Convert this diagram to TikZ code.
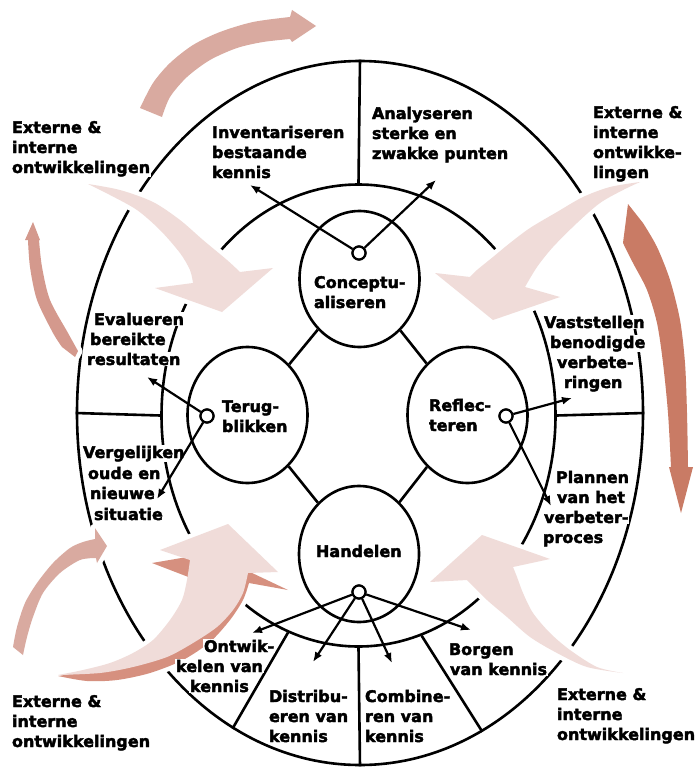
\documentclass[tikz,border=0pt]{standalone}
\usepackage{fontspec}
\newfontfamily\lblfont{DejaVu Sans}[BoldFeatures={FakeBold=2.5}]
\usetikzlibrary{shapes.geometric,arrows.meta}

\definecolor{rose}{HTML}{D9AAA0}
\definecolor{roseleft}{HTML}{D4998D}
\definecolor{blush}{HTML}{F0DCD9}
\definecolor{terra}{HTML}{C97B65}
\definecolor{deeprose}{HTML}{D6907F}

\tikzset{
  ring/.style={draw, ellipse, line width=2.6pt, inner sep=0pt},
  phase/.style={draw, ellipse, line width=2.6pt, minimum width=120pt, minimum height=136pt, inner sep=0pt},
  hub/.style={draw, circle, fill=white, line width=2.2pt, minimum size=13pt, inner sep=0pt},
  divider/.style={line width=2.6pt},
  link/.style={line width=2.2pt, -{Latex[length=10pt,width=8pt]}},
  lbl/.style={anchor=base west, inner sep=0.8pt, fill=white,
    font=\lblfont\bfseries\fontsize{16}{20}\selectfont},
  halo/.style={draw=white, line width=9pt, line join=round},
}

% one line of text, set with its baseline at (x,y)
\newcommand\lineat[4]{\node[lbl] (#1) at (#2,#3) {#4};}

% outlines of the curved block arrows (pixel-like units, y downwards)
\def\arrTop{plot[smooth] coordinates {(140,108) (153,83) (170,63) (193,45) (220,32) (253,22) (290,17)} -- (292,10) -- (316,26) -- (292,42) -- plot[smooth] coordinates {(290,39) (263,42) (237,48) (210,60) (187,77) (170,97) (162,117)} -- cycle}
\def\arrLeft{plot[smooth] coordinates {(62,347) (53,333) (37,300) (30,267) (28,240)} -- (25,240) -- (33,222) -- (40,240) -- plot[smooth] coordinates {(39,240) (42,267) (50,300) (68,333) (78,351)} -- (75,357) -- cycle}
\def\arrInTL{plot[smooth] coordinates {(88,184) (120,190) (153,202) (180,220) (203,240) (227,260) (240,272)} -- (273,268) -- (222,312) -- (155,288) -- plot[smooth] coordinates {(193,283) (190,270) (180,253) (160,230) (137,210) (110,195) (88,184)} -- cycle}
\def\arrInTR{plot[smooth] coordinates {(640,182) (610,187) (583,197) (557,212) (530,228) (510,243) (493,257) (477,270) (470,277)} -- (435,273) -- (493,320) -- (560,297) -- plot[smooth] coordinates {(525,287) (537,267) (553,247) (577,223) (600,203) (623,190) (640,182)} -- cycle}
\def\arrRight{(628,204) -- plot[smooth] coordinates {(643,223) (657,247) (670,280) (680,320) (685,363) (687,413) (688,467)} -- (693,467) -- (681,513) -- (669,467) -- plot[smooth] coordinates {(671,467) (668,413) (663,363) (657,323) (647,290) (633,263) (623,243)} -- cycle}
\def\arrInBR{plot[smooth] coordinates {(623,673) (597,667) (570,650) (550,633) (533,613) (523,593) (517,577) (513,567)} -- (550,559) -- (482,535) -- (430,582) -- plot[smooth] coordinates {(467,580) (487,600) (507,617) (530,637) (557,653) (587,667) (623,673)} -- cycle}
\def\arrBL{plot[smooth] coordinates {(13,647) (17,627) (25,603) (37,583) (53,563) (70,548) (83,542) (95,539)} -- (95,528) -- (107,546) -- (97,563) -- plot[smooth] coordinates {(96,558) (80,560) (60,573) (43,593) (33,617) (27,637) (23,655)} -- cycle}
\def\arrBigShadow{(152,563) -- (193,556) -- (250,572) -- (288,590) -- plot[smooth] coordinates {(249,583) (243,600) (230,620) (210,642) (183,660) (150,673) (117,680) (87,681) (58,676)} -- plot[smooth] coordinates {(110,668) (160,648) (184,615) (191,578)} -- cycle}
\def\arrBig{plot[smooth] coordinates {(58,675) (83,670) (110,663) (133,653) (153,640) (170,620) (182,600) (187,580) (190,560)} -- (160,550) -- (228,524) -- (278,572) -- plot[smooth] coordinates {(248,573) (243,593) (233,610) (217,627) (193,643) (167,657) (133,667) (100,673) (58,675)} -- cycle}

\begin{document}
\begin{tikzpicture}[x=1pt,y=-1pt]
\useasboundingbox (0,0) rectangle (698,768);

% rings and their dividers
\node[ring, minimum width=566pt, minimum height=704pt] (outer) at (360,413) {};
\node[ring, minimum width=394pt, minimum height=462pt] (inner) at (358.5,415.5) {};
\draw[divider] (outer.90) -- (inner.90);
\draw[divider] (outer.180) -- (inner.180);
\draw[divider] (inner.0) -- (outer.0);
\draw[divider] (inner.270) -- (outer.270);
\draw[divider] (inner.252) -- (outer.248);
\draw[divider] (inner.286) -- (outer.291);

% the four phases
\node[phase] (concept) at (359.5,279) {};
\node[phase] (terug) at (247.5,415) {};
\node[phase] (reflect) at (467.5,415) {};
\node[phase] (act) at (359,554) {};
\draw[divider] (concept) -- (terug);
\draw[divider] (concept) -- (reflect);
\draw[divider] (terug) -- (act);
\draw[divider] (reflect) -- (act);

% block arrows: white halos first, then the fills
\draw[halo] \arrTop;
\draw[halo] \arrLeft;
\draw[halo] \arrInTL;
\draw[halo] \arrInTR;
\draw[halo] \arrRight;
\draw[halo] \arrInBR;
\draw[halo] \arrBL;
\draw[halo] \arrBigShadow;
\draw[halo] \arrBig;
\fill[rose] \arrTop;
\fill[roseleft] \arrLeft;
\fill[blush] \arrInTL;
\fill[blush] \arrInTR;
\fill[terra] \arrRight;
\fill[blush] \arrInBR;
\fill[rose] \arrBL;
\fill[deeprose] \arrBigShadow;
\fill[blush] \arrBig;

% texts
\lineat{tlA}{11}{133}{Externe \&}
\lineat{tlB}{11}{153}{interne}
\lineat{tlC}{11}{173}{ontwikkelingen}
\lineat{invA}{211}{138}{Inventariseren}
\lineat{invB}{211}{158}{bestaande}
\lineat{invC}{211}{178}{kennis}
\lineat{anaA}{371}{119}{Analyseren}
\lineat{anaB}{371}{139}{sterke en}
\lineat{anaC}{371}{159}{zwakke punten}
\lineat{trA}{592}{118}{Externe \&}
\lineat{trB}{592}{138}{interne}
\lineat{trC}{592}{158}{ontwikke-}
\lineat{trD}{592}{178}{lingen}
\lineat{vasA}{543}{328}{Vaststellen}
\lineat{vasB}{549}{348}{benodigde}
\lineat{vasC}{556}{368}{verbete-}
\lineat{vasD}{563}{388}{ringen}
\lineat{evaA}{93}{325}{Evalueren}
\lineat{evaB}{89}{345}{bereikte}
\lineat{evaC}{86}{365}{resultaten}
\lineat{verA}{82}{458}{Vergelijken}
\lineat{verB}{87}{479}{oude en}
\lineat{verC}{89}{499}{nieuwe}
\lineat{verD}{93}{520}{situatie}
\lineat{plaA}{555}{483}{Plannen}
\lineat{plaB}{556}{503}{van het}
\lineat{plaC}{543}{523}{verbeter-}
\lineat{plaD}{542}{543}{proces}
\lineat{borA}{448}{655}{Borgen}
\lineat{borB}{449}{675}{van kennis}
\lineat{comA}{364}{702}{Combine-}
\lineat{comB}{364}{722}{ren van}
\lineat{comC}{364}{742}{kennis}
\lineat{disA}{268}{702}{Distribu-}
\lineat{disB}{268}{722}{eren van}
\lineat{disC}{268}{742}{kennis}
\lineat{ontA}{203}{652}{Ontwik-}
\lineat{ontB}{175}{672}{kelen van}
\lineat{ontC}{189}{692}{kennis}
\lineat{blA}{11}{707}{Externe \&}
\lineat{blB}{11}{727}{interne}
\lineat{blC}{11}{747}{ontwikkelingen}
\lineat{brA}{556}{700}{Externe \&}
\lineat{brB}{556}{720}{interne}
\lineat{brC}{556}{740}{ontwikkelingen}
\lineat{conA}{313}{288}{Conceptu-}
\lineat{conB}{313}{308}{aliseren}
\lineat{terA}{221}{412}{Terug-}
\lineat{terB}{221}{432}{blikken}
\lineat{refA}{428}{411}{Reflec-}
\lineat{refB}{428}{431}{teren}
\lineat{hanA}{315}{557}{Handelen}

% hubs and their arrows
\node[hub] (hc) at (359,253) {};
\node[hub] (ht) at (207,416) {};
\node[hub] (hr) at (506,416) {};
\node[hub] (hh) at (359,592) {};
\coordinate (eInv) at (250,185);
\coordinate (eAna) at (436,180);
\coordinate (eEva) at (147,377);
\coordinate (eVer) at (157,499);
\coordinate (eVas) at (572,398);
\coordinate (ePla) at (551,506);
\coordinate (eOnt) at (252,633);
\coordinate (eDis) at (313,662);
\coordinate (eCom) at (392,663);
\coordinate (eBor) at (471,630);
\draw[link] (hc) -- (eInv);
\draw[link] (hc) -- (eAna);
\draw[link] (ht) -- (eEva);
\draw[link] (ht) -- (eVer);
\draw[link] (hr) -- (eVas);
\draw[link] (hr) -- (ePla);
\draw[link] (hh) -- (eOnt);
\draw[link] (hh) -- (eDis);
\draw[link] (hh) -- (eCom);
\draw[link] (hh) -- (eBor);
\node[hub] at (hc) {};
\node[hub] at (ht) {};
\node[hub] at (hr) {};
\node[hub] at (hh) {};
\end{tikzpicture}
\end{document}
